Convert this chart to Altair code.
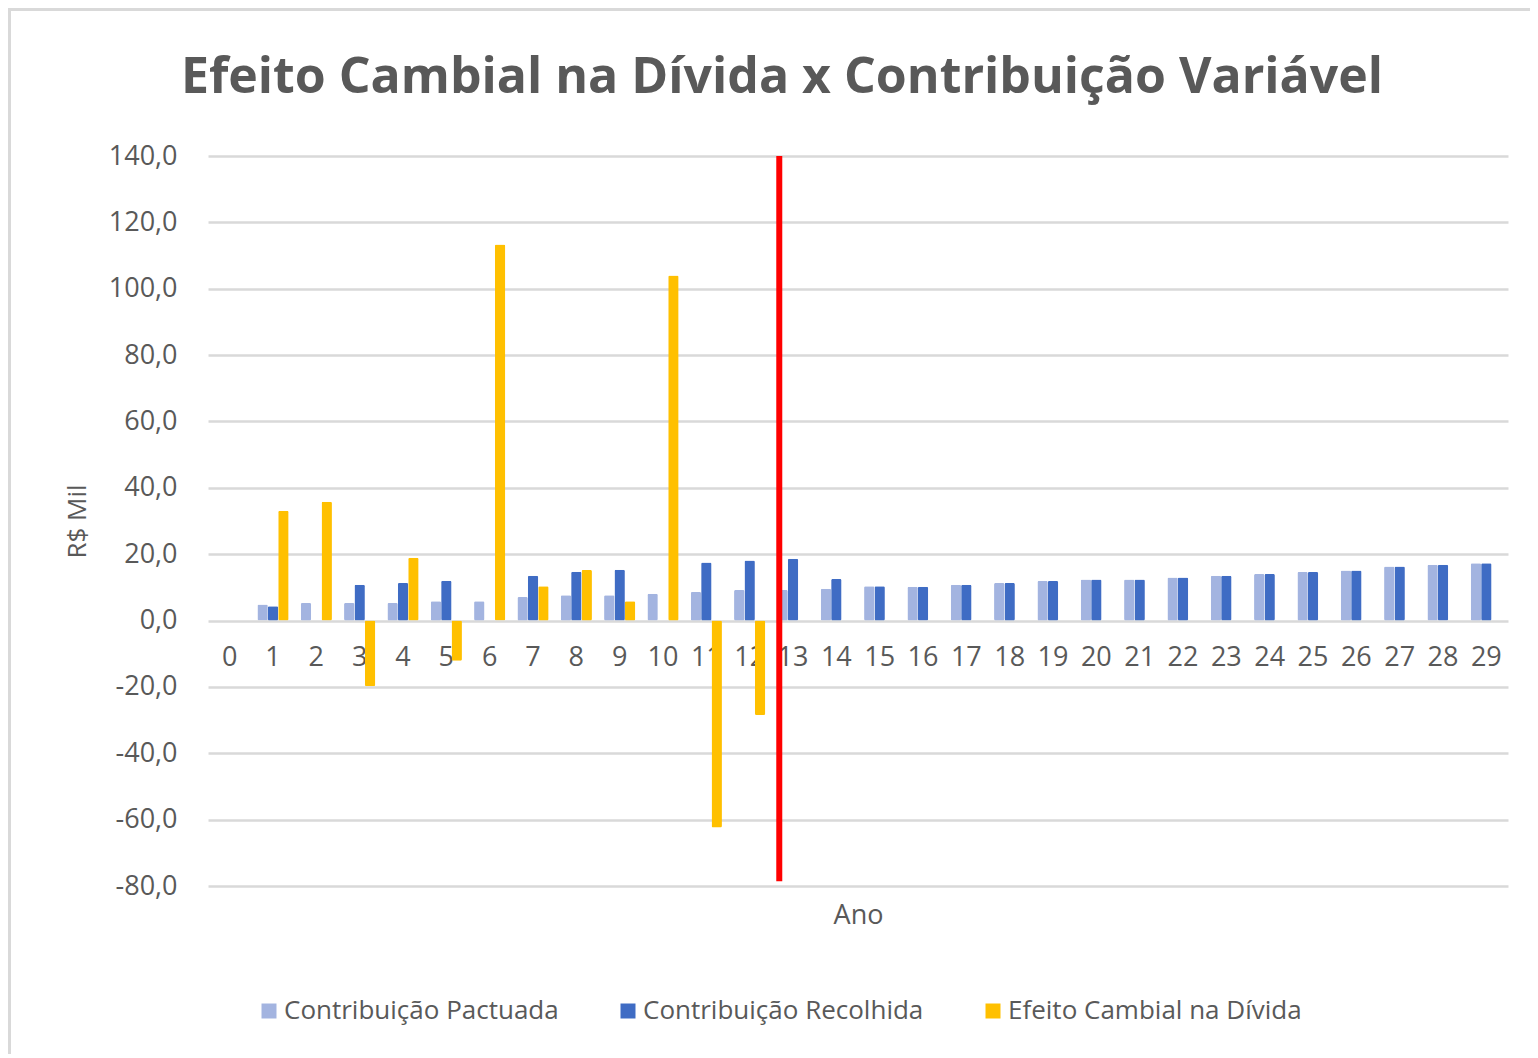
import altair as alt
import pandas as pd

# ---- data ----
years = [str(y) for y in range(30)]
series_names = ["Contribuição Pactuada", "Contribuição Recolhida", "Efeito Cambial na Dívida"]
series_colors = ["#a3b4e0", "#3f6cc4", "#ffc000"]

pactuada = [None, 4.8, 5.3, 5.3, 5.3, 5.8, 5.8, 7.1, 7.6, 7.6, 8.1, 8.6, 9.2, 9.2, 9.6,
            10.3, 10.2, 10.8, 11.3, 11.9, 12.4, 12.4, 13.0, 13.5, 14.0, 14.6, 15.1, 16.3, 16.8, 17.3]
recolhida = [None, 4.3, None, 10.8, 11.3, 12.0, None, 13.5, 14.7, 15.3, None, 17.5, 18.1, 18.6, 12.5,
             10.3, 10.2, 10.8, 11.3, 11.9, 12.4, 12.4, 13.0, 13.5, 14.0, 14.6, 15.1, 16.3, 16.8, 17.3]
efeito = [None, 33.1, 35.8, -19.8, 18.9, -12.1, 113.3, 10.3, 15.2, 5.8, 104.0, -62.4, -28.5,
          None, None, None, None, None, None, None, None, None, None, None, None, None, None, None, None, None]

y_ticks = [-80, -60, -40, -20, 0, 20, 40, 60, 80, 100, 120, 140]
divider_year = ["13"]
divider_top = [140]
divider_bottom = [-78.6]

rows = []
for name, vals in zip(series_names, [pactuada, recolhida, efeito]):
    for yr, v in zip(years, vals):
        if v is not None:
            rows.append({"Ano": yr, "Série": name, "Valor": v})
df = pd.DataFrame(rows)
div_df = pd.DataFrame({"Ano": divider_year, "top": divider_top, "bottom": divider_bottom})
frame_df = pd.DataFrame({"k": [0]})

TXT = "#595959"
FONT = "Open Sans"

x_enc = alt.X(
    "Ano:N",
    sort=years,
    scale=alt.Scale(domain=years, paddingInner=0.28, paddingOuter=0.14),
    axis=alt.Axis(
        title="Ano", labelAngle=0, domain=False, ticks=False, grid=False,
        offset=-265, labelPadding=23, labelFont=FONT, labelFontSize=27, labelColor=TXT,
        titleFont=FONT, titleFontSize=27, titleFontWeight="normal", titleColor=TXT,
        titlePadding=232,
    ),
)

y_scale = alt.Scale(domain=[-80, 140], nice=False, zero=False)

bars = alt.Chart(df).mark_bar(cornerRadius=1.5).encode(
    x=x_enc,
    xOffset=alt.XOffset("Série:N", sort=series_names, scale=alt.Scale(domain=series_names, paddingInner=0)),
    y=alt.Y(
        "Valor:Q",
        scale=y_scale,
        axis=alt.Axis(
            values=y_ticks,
            labelExpr="replace(replace(format(datum.value, '.1f'), '.', ','), '\u2212', '-')",
            grid=True, gridColor="#d9d9d9", gridWidth=2.5,
            domain=False, ticks=False,
            labelFont=FONT, labelFontSize=27, labelColor=TXT, labelPadding=31,
            title="R$ Mil", titleFont=FONT, titleFontSize=26, titleFontWeight="normal",
            titleColor=TXT, titlePadding=18,
        ),
    ),
    color=alt.Color(
        "Série:N",
        sort=series_names,
        scale=alt.Scale(domain=series_names, range=series_colors),
        legend=alt.Legend(
            title=None, orient="none", direction="horizontal",
            legendX=48, legendY=842, padding=0,
            symbolType="square", symbolSize=225, symbolStrokeWidth=0,
            labelFont=FONT, labelFontSize=26, labelColor=TXT, labelOffset=2,
            columnPadding=56, labelLimit=500,
        ),
    ),
)

divider = alt.Chart(div_df).mark_rule(color="#ff0000", strokeWidth=6).encode(
    x=alt.X("Ano:N", sort=years, bandPosition=0.06),
    y=alt.Y("top:Q", scale=y_scale),
    y2="bottom:Q",
)

frame = alt.Chart(frame_df).mark_rect(fill=None, stroke="#d9d9d9", strokeWidth=3).encode(
    x=alt.value(-198.5), x2=alt.value(1340), y=alt.value(-146.5), y2=alt.value(930)
)

chart = alt.layer(frame, bars, divider).properties(
    width=1300,
    height=730,
    autosize=alt.AutoSizeParams(type="none"),
    padding={"left": 200, "top": 148, "right": 22, "bottom": 168},
    title=alt.TitleParams(
        text="Efeito Cambial na Dívida x Contribuição Variável",
        font=FONT, fontSize=50, fontWeight="bold", color=TXT,
        anchor="middle", dx=-76, offset=-135, baseline="alphabetic",
    ),
).configure(background="white", view=alt.ViewConfig(stroke=None))

chart.save("out.html", embed_options={"renderer": "svg", "actions": False})
